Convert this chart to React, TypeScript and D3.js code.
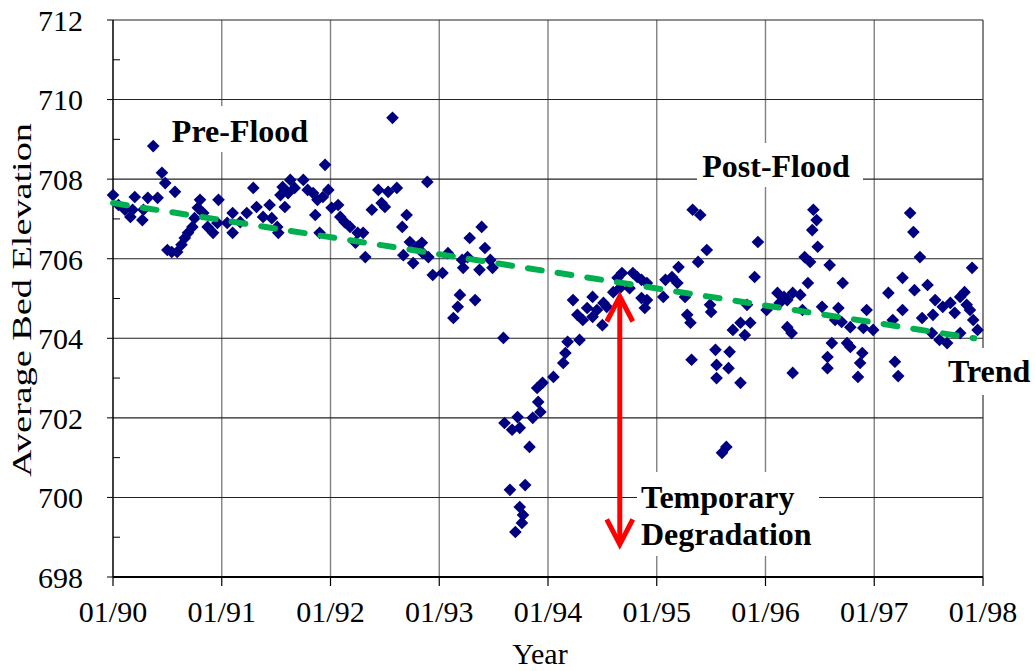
import React from "react";
import * as d3 from "d3";

// Survey record: [decimal year, average bed elevation]
const bedElevation: [number, number][] = [
  // 1990
  [1990.0, 707.6], [1990.05, 707.35], [1990.11, 707.23], [1990.16, 707.05], [1990.18, 707.23],
  [1990.2, 707.55], [1990.27, 706.97], [1990.28, 707.23], [1990.32, 707.53], [1990.37, 708.83],
  [1990.41, 707.53], [1990.45, 708.16], [1990.48, 707.9], [1990.57, 707.68], [1990.5, 706.22],
  [1990.54, 706.17], [1990.59, 706.17], [1990.63, 706.35], [1990.66, 706.52], [1990.69, 706.65],
  [1990.73, 706.8], [1990.75, 707.02], [1990.78, 707.28], [1990.8, 707.48], [1990.83, 707.15],
  [1990.87, 706.8], [1990.92, 706.65], [1990.96, 706.9], [1990.97, 707.48],
  // 1991
  [1991.05, 706.9], [1991.1, 707.15], [1991.1, 706.65], [1991.17, 706.92], [1991.23, 707.15],
  [1991.29, 707.78], [1991.32, 707.3], [1991.38, 707.05], [1991.44, 707.35], [1991.46, 707.02],
  [1991.51, 706.8], [1991.52, 706.65], [1991.54, 707.6], [1991.56, 707.8], [1991.58, 707.3],
  [1991.61, 707.65], [1991.63, 707.98], [1991.67, 707.78], [1991.75, 707.98], [1991.79, 707.73],
  [1991.84, 707.65], [1991.88, 707.48], [1991.86, 707.1], [1991.9, 706.65], [1991.93, 707.55],
  [1991.95, 708.36], [1991.98, 707.73],
  // 1992
  [1992.01, 707.28], [1992.07, 707.35], [1992.09, 707.05], [1992.13, 706.92], [1992.18, 706.8],
  [1992.23, 706.4], [1992.25, 706.65], [1992.3, 706.65], [1992.32, 706.04], [1992.38, 707.23],
  [1992.44, 707.73], [1992.47, 707.4], [1992.5, 707.3], [1992.53, 707.68], [1992.57, 709.54],
  [1992.61, 707.78], [1992.66, 706.8], [1992.67, 706.09], [1992.7, 707.1], [1992.73, 706.42],
  [1992.76, 705.89], [1992.8, 706.3], [1992.84, 706.4], [1992.85, 706.14], [1992.89, 707.93],
  [1992.9, 706.04], [1992.94, 705.59],
  // 1993
  [1993.03, 705.64], [1993.08, 706.14], [1993.13, 704.51], [1993.17, 704.79], [1993.19, 705.09],
  [1993.21, 705.97], [1993.22, 705.77], [1993.26, 706.04], [1993.28, 706.52], [1993.33, 704.96],
  [1993.37, 705.72], [1993.39, 706.8], [1993.42, 706.27], [1993.47, 705.97], [1993.49, 705.77],
  [1993.59, 704.01], [1993.6, 701.87], [1993.67, 701.7], [1993.72, 702.02], [1993.74, 701.75],
  [1993.83, 701.27], [1993.86, 702.0], [1993.93, 702.15], [1993.91, 702.4], [1993.9, 702.75],
  [1993.95, 702.88], [1993.65, 700.19], [1993.79, 700.31], [1993.74, 699.76], [1993.77, 699.56],
  [1993.76, 699.36], [1993.7, 699.13],
  // 1994
  [1994.05, 703.03], [1994.14, 703.38], [1994.16, 703.63], [1994.18, 703.91], [1994.23, 704.96],
  [1994.27, 704.59], [1994.29, 703.96], [1994.32, 704.46], [1994.36, 704.76], [1994.41, 705.04],
  [1994.41, 704.54], [1994.45, 704.71], [1994.5, 704.33], [1994.51, 704.89], [1994.54, 704.79],
  [1994.6, 705.16], [1994.64, 705.52], [1994.66, 705.26], [1994.68, 705.64], [1994.75, 705.26],
  [1994.78, 705.64], [1994.82, 705.54], [1994.86, 705.47], [1994.86, 705.01], [1994.89, 704.76],
  [1994.91, 705.39], [1994.91, 704.96],
  // 1995
  [1995.06, 705.04], [1995.08, 705.47], [1995.14, 705.54], [1995.2, 705.79], [1995.19, 705.39],
  [1995.26, 705.04], [1995.28, 704.59], [1995.31, 704.39], [1995.32, 703.46], [1995.33, 707.23],
  [1995.4, 707.1], [1995.38, 705.92], [1995.46, 706.22], [1995.49, 704.84], [1995.5, 704.66],
  [1995.54, 703.71], [1995.55, 703.33], [1995.55, 703.0], [1995.6, 701.12], [1995.64, 701.27],
  [1995.66, 703.25], [1995.67, 703.66], [1995.7, 704.21], [1995.77, 704.39], [1995.77, 702.88],
  [1995.81, 704.08], [1995.83, 704.84], [1995.86, 704.39], [1995.9, 705.54], [1995.93, 706.42],
  // 1996
  [1996.01, 704.71], [1996.11, 705.14], [1996.13, 704.89], [1996.17, 705.04], [1996.2, 704.28],
  [1996.2, 704.96], [1996.24, 704.13], [1996.25, 703.13], [1996.25, 705.14], [1996.32, 705.09],
  [1996.34, 704.71], [1996.36, 706.04], [1996.39, 705.39], [1996.41, 705.92], [1996.43, 706.72],
  [1996.44, 707.23], [1996.47, 706.97], [1996.48, 706.3], [1996.52, 704.79], [1996.57, 703.25],
  [1996.57, 703.53], [1996.59, 705.84], [1996.61, 703.88], [1996.64, 704.46], [1996.67, 704.76],
  [1996.71, 705.39], [1996.7, 704.41], [1996.75, 703.88], [1996.78, 704.28], [1996.78, 703.78],
  [1996.85, 703.03], [1996.87, 703.38], [1996.89, 703.63], [1996.9, 704.26], [1996.93, 704.71],
  [1996.99, 704.21],
  // 1997
  [1997.13, 705.14], [1997.17, 704.46], [1997.19, 703.41], [1997.22, 703.05], [1997.26, 704.71],
  [1997.26, 705.52], [1997.33, 707.15], [1997.36, 706.67], [1997.37, 705.21], [1997.42, 706.04],
  [1997.44, 704.51], [1997.49, 705.34], [1997.53, 704.13], [1997.54, 704.59], [1997.56, 704.96],
  [1997.6, 703.96], [1997.63, 704.79], [1997.67, 703.88], [1997.7, 704.89], [1997.74, 704.64],
  [1997.79, 705.04], [1997.79, 704.13], [1997.83, 705.16], [1997.85, 704.84], [1997.88, 704.71],
  [1997.9, 705.77], [1997.91, 704.46], [1997.95, 704.21],
];

// Linear trend of bed elevation
const trendLine: [number, number][] = [
  [1990.0, 707.4],
  [1997.92, 704.0],
];

// Flood-induced scour marker: from trend level down to the lowest survey
const degradationArrow = { year: 1994.66, top: 705.05, bottom: 698.82 };

const yearTicks = [1990, 1991, 1992, 1993, 1994, 1995, 1996, 1997, 1998];
const yearLabels = ["01/90", "01/91", "01/92", "01/93", "01/94", "01/95", "01/96", "01/97", "01/98"];
const elevationTicks = [698, 700, 702, 704, 706, 708, 710, 712];
const elevationMinorTicks = [699, 701, 703, 705, 707, 709, 711];

const W = 1035;
const H = 671;
const FONT = "Liberation Serif, Times New Roman, Times, serif";

export default function App() {
  const x = d3.scaleLinear().domain([1990, 1998]).range([113, 983]);
  const y = d3.scaleLinear().domain([698, 712]).range([577, 20]);
  const [x0, x1] = x.range();
  const [y0, y1] = y.range();

  const diamond = d3.symbol(d3.symbolSquare, 80)()!;
  const trendPath = d3
    .line<[number, number]>()
    .x((d) => x(d[0]))
    .y((d) => y(d[1]))(trendLine)!;

  const ax = x(degradationArrow.year);
  const aTop = y(degradationArrow.top);
  const aBot = y(degradationArrow.bottom);
  const headW = 13;
  const headH = 25;

  return (
    <svg
      width={W}
      height={H}
      style={{ position: "absolute", left: 0, top: 0, background: "#fff", fontFamily: FONT }}
    >
      {/* vertical gridlines */}
      {yearTicks.slice(1, -1).map((t) => (
        <line key={`vg${t}`} x1={x(t)} x2={x(t)} y1={y1} y2={y0} stroke="#808080" strokeWidth={1.4} />
      ))}
      {/* horizontal gridlines */}
      {elevationTicks.slice(1).map((t) => (
        <line key={`hg${t}`} x1={x0} x2={x1} y1={y(t)} y2={y(t)} stroke="#222" strokeWidth={1.1} />
      ))}
      {/* right border */}
      <line x1={x1} x2={x1} y1={y1} y2={y0} stroke="#333" strokeWidth={1.2} />

      {/* annotation backdrops */}
      <rect x={165} y={106} width={152} height={46} fill="#fff" />
      <rect x={697} y={143} width={166} height={44} fill="#fff" />
      <rect x={940} y={348} width={95} height={47} fill="#fff" />
      <rect x={637} y={472} width={182} height={84} fill="#fff" />

      {/* axes */}
      <line x1={x0} x2={x0} y1={y1} y2={y0} stroke="#000" strokeWidth={1.5} />
      <line x1={x0} x2={x1} y1={y0} y2={y0} stroke="#000" strokeWidth={2} />
      {elevationMinorTicks.map((t) => (
        <line key={`mt${t}`} x1={x0} x2={x0 + 7} y1={y(t)} y2={y(t)} stroke="#000" strokeWidth={1} />
      ))}
      {elevationTicks.map((t) => (
        <line key={`yt${t}`} x1={x0 - 6} x2={x0} y1={y(t)} y2={y(t)} stroke="#000" strokeWidth={1} />
      ))}
      {yearTicks.map((t) => (
        <line key={`xt${t}`} x1={x(t)} x2={x(t)} y1={y0} y2={y0 + 9} stroke="#000" strokeWidth={1.2} />
      ))}

      {/* tick labels */}
      {elevationTicks.map((t) => (
        <text key={`yl${t}`} x={83} y={y(t)} dy="0.36em" textAnchor="end" fontSize={30} fill="#000">
          {t}
        </text>
      ))}
      {yearTicks.map((t, i) => (
        <text key={`xl${t}`} x={x(t)} y={622} textAnchor="middle" fontSize={30} fill="#000">
          {yearLabels[i]}
        </text>
      ))}

      {/* axis titles */}
      <text x={540} y={664} textAnchor="middle" fontSize={30} fill="#000">
        Year
      </text>
      <text
        transform={`translate(31, 300) rotate(-90)`}
        textAnchor="middle"
        fontSize={27}
        fill="#000"
        textLength={354}
        lengthAdjust="spacingAndGlyphs"
      >
        Average Bed Elevation
      </text>

      {/* survey points */}
      {bedElevation.map((d, i) => (
        <path
          key={`p${i}`}
          d={diamond}
          transform={`translate(${x(d[0])},${y(d[1])}) rotate(45)`}
          fill="#000080"
        />
      ))}

      {/* trend */}
      <path
        d={trendPath}
        fill="none"
        stroke="#00b050"
        strokeWidth={6}
        strokeDasharray="14 16"
        strokeLinecap="round"
      />

      {/* degradation arrow */}
      <g stroke="#ff0000" strokeWidth={5} fill="none">
        <line x1={ax} x2={ax} y1={aTop + 2} y2={aBot - 2} />
        <polyline points={`${ax - headW},${aTop + headH} ${ax},${aTop} ${ax + headW},${aTop + headH}`} />
        <polyline points={`${ax - headW},${aBot - headH} ${ax},${aBot} ${ax + headW},${aBot - headH}`} />
      </g>

      {/* annotations */}
      <g fontWeight="bold" fontSize={32} fill="#000">
        <text x={240} y={142} textAnchor="middle">Pre-Flood</text>
        <text x={776} y={177} textAnchor="middle">Post-Flood</text>
        <text x={948} y={382}>Trend</text>
        <text x={641} y={508}>Temporary</text>
        <text x={641} y={545}>Degradation</text>
      </g>
    </svg>
  );
}
